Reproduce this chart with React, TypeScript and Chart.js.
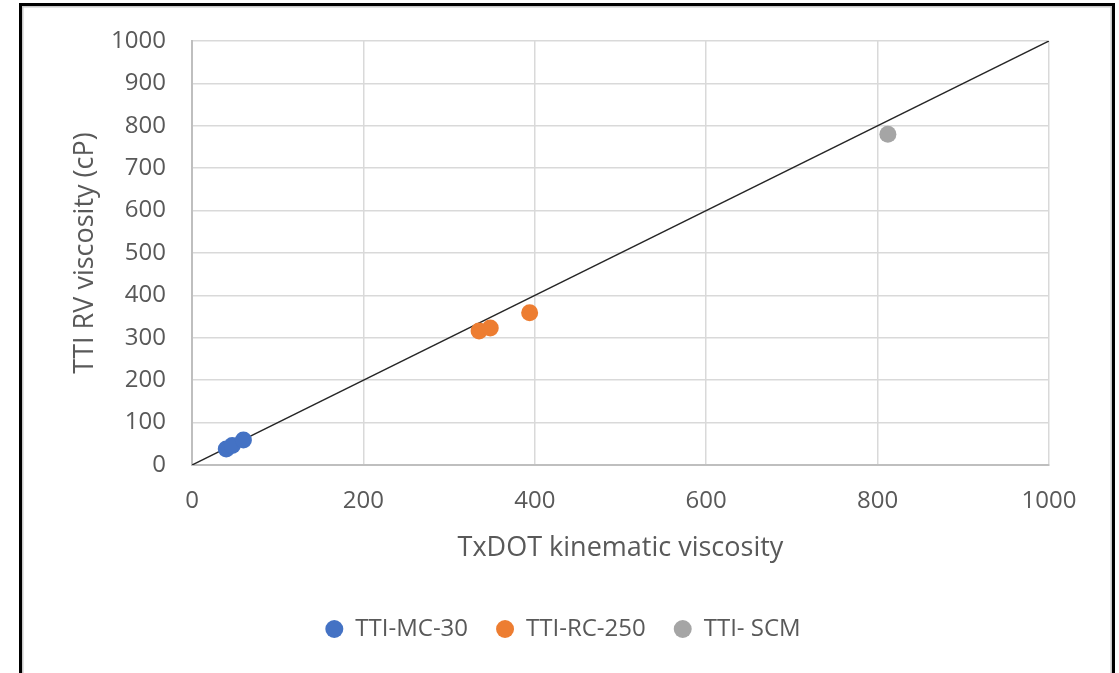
import React, { useEffect, useRef } from "react";
import { Chart, registerables } from "chart.js";

Chart.register(...registerables);

// Measured viscosities: TxDOT kinematic (x) vs. TTI RV (y, cP)
const mc30X = [40, 47, 60];
const mc30Y = [38, 46, 59];
const rc250X = [335, 348, 394];
const rc250Y = [316, 323, 359];
const scmX = [812];
const scmY = [780];

// Line of equality
const equalityX = [0, 1000];
const equalityY = [0, 1000];

const axisMin = 0;
const axisMax = 1000;
const xStep = 200;
const yStep = 100;

const FONT = "'Open Sans', Lato, sans-serif";
const TEXT = "#595959";

const toPoints = (xs: number[], ys: number[]) => xs.map((x, i) => ({ x, y: ys[i] }));

export default function App() {
  const canvasRef = useRef<HTMLCanvasElement | null>(null);

  useEffect(() => {
    if (!canvasRef.current) return;
    const pointDs = (label: string, xs: number[], ys: number[], color: string) => ({
      type: "scatter" as const,
      label,
      data: toPoints(xs, ys),
      backgroundColor: color,
      borderColor: color,
      pointRadius: 8.5,
      pointHoverRadius: 8.5,
      borderWidth: 0,
      pointStyle: "circle",
      order: 1,
    });

    const chart = new Chart(canvasRef.current, {
      type: "scatter",
      data: {
        datasets: [
          pointDs("TTI-MC-30", mc30X, mc30Y, "#4472C4"),
          pointDs("TTI-RC-250", rc250X, rc250Y, "#ED7D31"),
          pointDs("TTI- SCM", scmX, scmY, "#A5A5A5"),
          {
            type: "line" as const,
            label: "equality",
            data: toPoints(equalityX, equalityY),
            borderColor: "#262626",
            borderWidth: 1.5,
            pointRadius: 0,
            fill: false,
            order: 2,
          } as any,
        ],
      },
      options: {
        animation: false,
        responsive: false,
        layout: { padding: { left: 20, right: 13, top: 41, bottom: 22 } },
        plugins: {
          tooltip: { enabled: false },
          legend: {
            position: "bottom",
            labels: {
              filter: (item: any) => item.text !== "equality",
              usePointStyle: true,
              pointStyle: "circle",
              pointStyleWidth: 18,
              boxHeight: 12.7,
              padding: 28,
              color: TEXT,
              font: { family: FONT, size: 24 },
            },
          },
        },
        scales: {
          x: {
            type: "linear",
            min: axisMin,
            max: axisMax,
            ticks: {
              stepSize: xStep,
              color: TEXT,
              font: { family: FONT, size: 24 },
              padding: 22,
              callback: (v: any) => String(v),
            },
            grid: { color: "#d9d9d9", lineWidth: 1.5, drawTicks: false },
            border: { color: "#bfbfbf", width: 2 },
            title: {
              display: true,
              text: "TxDOT kinematic viscosity",
              color: TEXT,
              font: { family: FONT, size: 27 },
              padding: { top: 0, bottom: 24 },
            },
            afterFit: (s: any) => {
              s.height = 124;
            },
          },
          y: {
            type: "linear",
            min: axisMin,
            max: axisMax,
            ticks: {
              stepSize: yStep,
              color: TEXT,
              font: { family: FONT, size: 24 },
              padding: 26,
              callback: (v: any) => String(v),
            },
            grid: { color: "#d9d9d9", lineWidth: 1.5, drawTicks: false },
            border: { color: "#bfbfbf", width: 2 },
            title: {
              display: true,
              text: "TTI RV viscosity (cP)",
              color: TEXT,
              font: { family: FONT, size: 27 },
              padding: { top: 49, bottom: 0 },
            },
            afterFit: (s: any) => {
              s.width = 172;
            },
          },
          // empty right-hand margin box so the plot ends where the x-axis should
          margin: {
            type: "linear",
            position: "right",
            display: true,
            ticks: { display: false },
            grid: { display: false, drawTicks: false },
            border: { display: false },
            afterFit: (s: any) => {
              s.width = 57;
            },
          },
        },
      },
    } as any);
    return () => chart.destroy();
  }, []);

  return (
    <div style={{ position: "fixed", left: 0, top: 0, width: 1119, height: 673, background: "#fff", overflow: "hidden" }}>
      <canvas ref={canvasRef} width={1119} height={673} style={{ position: "absolute", left: 0, top: 0 }} />
      <div
        style={{
          position: "absolute",
          left: 19,
          top: 3,
          width: 1090,
          height: 700,
          border: "3px solid #000",
          boxShadow: "inset 0 0 0 1.5px #c8c8c8",
          pointerEvents: "none",
        }}
      />
    </div>
  );
}
